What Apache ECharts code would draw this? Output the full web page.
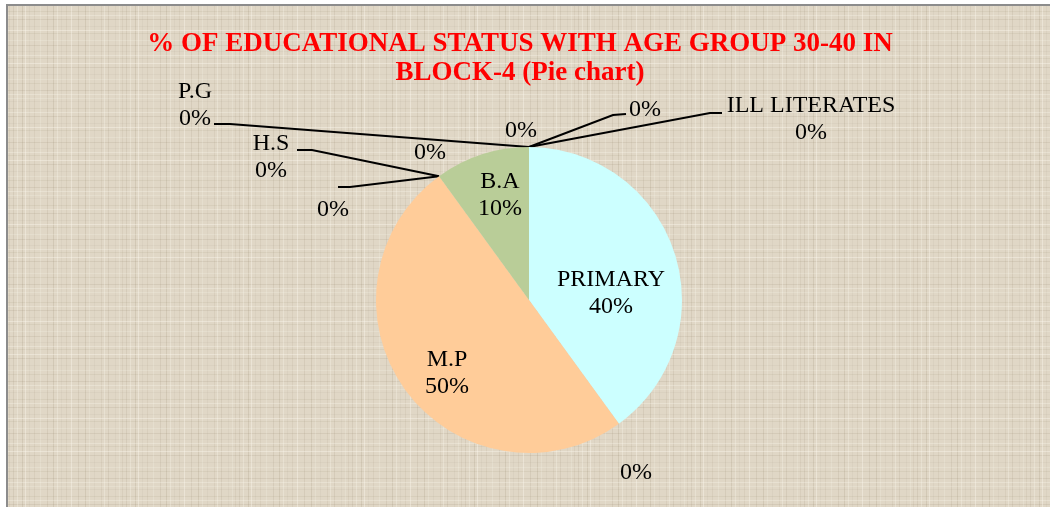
<!DOCTYPE html>
<html>
<head>
<meta charset="utf-8">
<script src="https://cdn.jsdelivr.net/npm/echarts@6/dist/echarts.min.js"></script>
<style>
  html, body { margin: 0; padding: 0; background: #fff; }
  #chart { width: 1050px; height: 507px; }
</style>
</head>
<body>
<div id="chart"></div>
<script>
// data (order = clockwise from 12 o'clock, like the Excel pie)
const categories = ['ILL LITERATES', '', 'PRIMARY', '', 'M.P', '', 'H.S', '', 'B.A', '', 'P.G']
const values = [0, 0, 40, 0, 50, 0, 0, 0, 10, 0, 0]
const sliceColors = ['#9bbb59', '#8064a2', '#ccffff', '#4bacc6', '#ffcc99', '#c0504d', '#f79646', '#4f81bd', '#b9cd98', '#d99694', '#95b3d7']

// label placement (page px): centre of each label, and the bend/end of its leader line
const labelSpots = [
  [811, 119], [645, 110], [611, 293], [636, 473], [447, 373],
  [333, 210], [271, 157], [430, 153], [500, 195], [521, 131], [195, 105]
]
const leaderBends = {
  0: [[710, 113], [722, 113]],
  1: [[613, 115], [626, 114]],
  5: [[350, 187], [338, 187]],
  6: [[312, 150], [297, 150]],
  10: [[230, 124], [214, 124]]
}

// linen-like texture for the chart area (repeating tile of thin threads)
function makeLinen() {
  const w = 113, h = 97
  const c = document.createElement('canvas')
  c.width = w
  c.height = h
  const ctx = c.getContext('2d')
  ctx.fillStyle = '#e0d7c6'
  ctx.fillRect(0, 0, w, h)
  const darkCols = [2, 9, 13, 22, 29, 34, 47, 53, 61, 66, 78, 85, 94, 101, 108]
  const darkRows = [4, 11, 19, 26, 33, 45, 51, 58, 67, 74, 83, 90]
  const lightCols = [6, 17, 25, 40, 57, 71, 89, 104]
  const lightRows = [1, 15, 30, 40, 55, 63, 79, 94]
  darkCols.forEach((x, k) => {
    ctx.fillStyle = 'rgba(140,125,100,' + (0.06 + (k % 4) * 0.035) + ')'
    ctx.fillRect(x, 0, 1, h)
  })
  darkRows.forEach((y, k) => {
    ctx.fillStyle = 'rgba(140,125,100,' + (0.06 + (k % 3) * 0.04) + ')'
    ctx.fillRect(0, y, w, 1)
  })
  lightCols.forEach((x, k) => {
    ctx.fillStyle = 'rgba(252,248,238,' + (0.2 + (k % 3) * 0.1) + ')'
    ctx.fillRect(x, 0, 1, h)
  })
  lightRows.forEach((y, k) => {
    ctx.fillStyle = 'rgba(252,248,238,' + (0.2 + (k % 3) * 0.1) + ')'
    ctx.fillRect(0, y, w, 1)
  })
  return c
}

const chart = echarts.init(document.getElementById('chart'), null, { renderer: 'canvas' })

const pieData = categories.map((name, i) => ({
  name: name,
  value: values[i],
  itemStyle: { color: sliceColors[i] },
  labelLine: { show: !!leaderBends[i] }
}))

chart.setOption({
  animation: false,
  backgroundColor: '#ffffff',
  graphic: [{
    type: 'rect',
    z: -10,
    silent: true,
    shape: { x: 7, y: 5, width: 1046, height: 505 },
    style: { fill: { image: makeLinen(), repeat: 'repeat' }, stroke: '#8c8c8c', lineWidth: 2 }
  }],
  title: {
    text: '% OF EDUCATIONAL STATUS WITH AGE GROUP 30-40 IN\nBLOCK-4 (Pie chart)',
    left: 515,
    top: 25,
    textAlign: 'center',
    textStyle: {
      color: '#ff0000',
      fontFamily: '"Liberation Serif", "Times New Roman", serif',
      fontWeight: 'bold',
      fontSize: 27,
      lineHeight: 29
    }
  },
  series: [{
    type: 'pie',
    center: [529, 300],
    radius: 153,
    startAngle: 90,
    clockwise: true,
    avoidLabelOverlap: false,
    data: pieData,
    itemStyle: { borderWidth: 0 },
    label: {
      show: true,
      position: 'outside',
      color: '#000',
      fontFamily: '"Liberation Serif", "Times New Roman", serif',
      fontSize: 24,
      lineHeight: 27,
      formatter: p => (p.name ? p.name + '\n' : '') + Math.round(p.percent) + '%'
    },
    labelLine: {
      length: 20,
      length2: 10,
      lineStyle: { color: '#000', width: 2 }
    },
    labelLayout: function (params) {
      const i = params.dataIndex
      const spot = labelSpots[i]
      const out = { x: spot[0], y: spot[1], align: 'center', verticalAlign: 'middle' }
      const bends = leaderBends[i]
      if (bends && params.labelLinePoints) {
        out.labelLinePoints = [params.labelLinePoints[0], bends[0], bends[1]]
      }
      return out
    },
    emphasis: { disabled: true }
  }]
})
</script>
</body>
</html>
